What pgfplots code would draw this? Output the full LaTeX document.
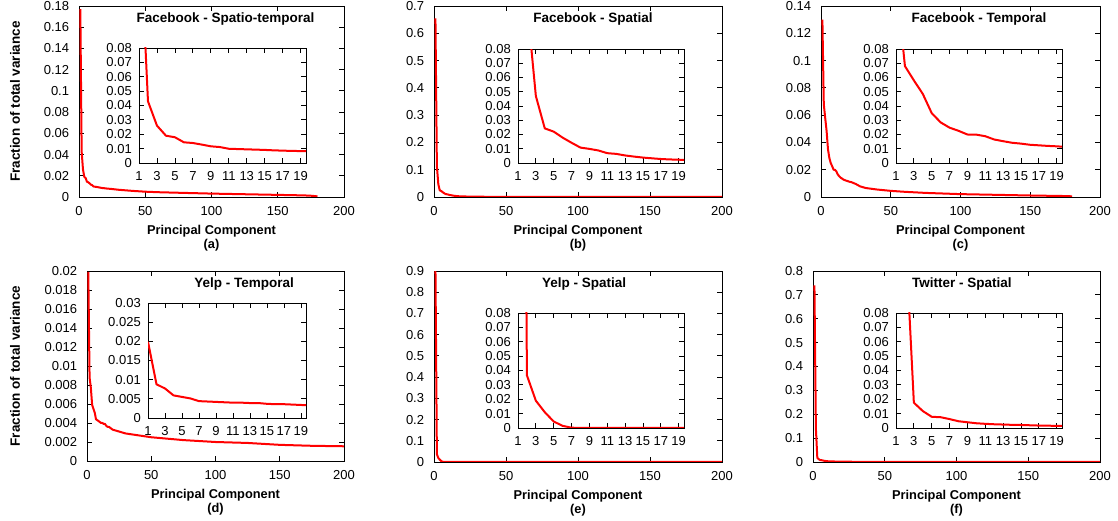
\documentclass[border=0pt]{standalone}
\usepackage{pgfplots}
\pgfplotsset{compat=1.18}
\usepackage{pgfplotstable}
\usepackage{fontspec}
\setmainfont{Liberation Sans}

% fraction of total variance per principal component
\pgfplotstableread{
x y
1 0.177
2 0.0429
3 0.0260
4 0.0190
5 0.0179
6 0.0144
7 0.0139
8 0.0128
9 0.0116
10 0.0111
11 0.0099
12 0.0097
13 0.0095
14 0.0093
15 0.0091
16 0.0088
17 0.0086
18 0.0084
19 0.0083
20 0.0081
25 0.0075
30 0.0068
40 0.0058
50 0.0050
60 0.0045
75 0.0040
100 0.0032
125 0.0026
150 0.0020
170 0.0015
175 0.0012
180 0.0006
}\fbst

\pgfplotstableread{
x y
1 0.655
2 0.113
3 0.047
4 0.0243
5 0.0220
6 0.0178
7 0.0142
8 0.0108
9 0.0099
10 0.0088
11 0.0069
12 0.0064
13 0.0053
14 0.0045
15 0.0038
16 0.0033
17 0.0028
18 0.0025
19 0.0023
20 0.0021
25 0.0015
30 0.0011
40 0.0007
50 0.0005
75 0.0003
100 0.0002
150 0.0001
200 0.00005
}\fbs

\pgfplotstableread{
x y
1 0.130
2 0.068
3 0.058
4 0.0485
5 0.0350
6 0.0285
7 0.0248
8 0.0226
9 0.0200
10 0.0199
11 0.0188
12 0.0165
13 0.0153
14 0.0142
15 0.0136
16 0.0128
17 0.0124
18 0.0120
19 0.0117
20 0.0113
22 0.0108
25 0.0095
28 0.0078
32 0.0066
40 0.0055
50 0.0045
60 0.0038
75 0.0030
100 0.0021
125 0.0016
150 0.0011
175 0.0007
180 0.0005
}\fbt

\pgfplotstableread{
x y
1 0.0199
2 0.0088
3 0.0077
4 0.0059
5 0.0055
6 0.0051
7 0.0044
8 0.0043
9 0.0042
10 0.0041
11 0.0040
12 0.0040
13 0.0039
14 0.0039
15 0.0037
16 0.0036
17 0.0036
18 0.0035
19 0.0034
20 0.0033
25 0.0031
30 0.0029
40 0.0027
50 0.0025
75 0.0022
100 0.0020
125 0.0019
150 0.0017
175 0.0016
200 0.00155
}\yt

\pgfplotstableread{
x y
1 0.92
2 0.0366
3 0.0190
4 0.0110
5 0.0045
6 0.0015
7 0.0002
8 0.0001
10 0.00005
20 0.00002
50 0.00001
100 0.00001
200 0.00001
}\ys

\pgfplotstableread{
x y
1 0.740
2 0.142
3 0.0176
4 0.0118
5 0.0078
6 0.0075
7 0.0062
8 0.0047
9 0.0040
10 0.0033
11 0.0029
12 0.0026
13 0.0024
14 0.0022
15 0.0021
16 0.0019
17 0.0017
18 0.0016
19 0.0015
20 0.0014
30 0.0009
50 0.0005
100 0.0002
150 0.0001
200 0.00005
}\ts

\newcommand\lbfont{\fontsize{12.8bp}{13.5bp}\selectfont\bfseries}
\newcommand\ttfont{\fontsize{13.5bp}{14bp}\selectfont\bfseries}
\pgfplotsset{
  panel/.style={
    scale only axis, anchor=south west,
    axis line style={line width=0.8bp, black},
    every tick/.style={black, line width=0.8bp},
    major tick length=5bp,
    tick align=inside,
    scaled ticks=false,
    tick label style={font=\fontsize{13bp}{14bp}\selectfont},
    /pgf/number format/fixed,
    /pgf/number format/precision=3,
    /pgf/number format/assume math mode=true,
    ymin=0,
  },
  main/.style={panel, xmin=0, xmax=200, xtick={0,50,100,150,200},
    yticklabel style={xshift=-6.4bp}, xticklabel style={yshift=-5.5bp},
    xlabel={Principal Component\\(#1)},
    xlabel style={font=\lbfont, align=center, at={(axis description cs:0.5,0)}, anchor=center, yshift=-41bp},
    ylabel style={font=\ttfont, anchor=center}},
  inset/.style={panel, xmin=1, xmax=19.6, xtick={1,3,5,7,9,11,13,15,17,19},
    ymax=0.08, ytick={0,0.01,0.02,0.03,0.04,0.05,0.06,0.07,0.08},
    yticklabel style={xshift=-3.7bp}, xticklabel style={yshift=-5bp}},
  curve/.style={red, line width=2bp, line join=round, mark=none},
}

\begin{document}
\begin{tikzpicture}
\useasboundingbox (0,0) rectangle (1118bp,521bp);

% (a)
\begin{axis}[main=a, at={(79bp,324bp)}, width=265bp, height=191bp, ymax=0.18,
  ytick={0,0.02,0.04,0.06,0.08,0.1,0.12,0.14,0.16,0.18},
  ylabel={Fraction of total variance}, ylabel style={at={(axis description cs:-0.2415,0.5)}}]
\addplot[curve] table {\fbst};
\node[font=\ttfont] at (rel axis cs:0.553,0.932) {Facebook - Spatio-temporal};
\end{axis}
\begin{axis}[inset, at={(139bp,358bp)}, width=167bp, height=115bp]
\addplot[curve] table {\fbst};
\end{axis}

% (b)
\begin{axis}[main=b, at={(434bp,324bp)}, width=288bp, height=191bp, ymax=0.7,
  ytick={0,0.1,0.2,0.3,0.4,0.5,0.6,0.7}]
\addplot[curve] table {\fbs};
\node[font=\ttfont] at (rel axis cs:0.552,0.932) {Facebook - Spatial};
\end{axis}
\begin{axis}[inset, at={(518bp,358bp)}, width=166bp, height=114bp]
\addplot[curve] table {\fbs};
\end{axis}

% (c)
\begin{axis}[main=c, at={(821bp,324bp)}, width=279bp, height=191bp, ymax=0.14,
  ytick={0,0.02,0.04,0.06,0.08,0.1,0.12,0.14}]
\addplot[curve] table {\fbt};
\node[font=\ttfont] at (rel axis cs:0.566,0.932) {Facebook - Temporal};
\end{axis}
\begin{axis}[inset, at={(896bp,358bp)}, width=166bp, height=114bp]
\addplot[curve] table {\fbt};
\end{axis}

% (d)
\begin{axis}[main=d, at={(87bp,60bp)}, width=257bp, height=190bp, ymax=0.02,
  ytick={0,0.002,0.004,0.006,0.008,0.01,0.012,0.014,0.016,0.018,0.02},
  ylabel={Fraction of total variance}, ylabel style={at={(axis description cs:-0.2802,0.5)}}]
\addplot[curve] table {\yt};
\node[font=\ttfont] at (rel axis cs:0.611,0.932) {Yelp - Temporal};
\end{axis}
\begin{axis}[inset, at={(148bp,103bp)}, width=158bp, height=115bp, ymax=0.03,
  ytick={0,0.005,0.01,0.015,0.02,0.025,0.03}]
\addplot[curve] table {\yt};
\end{axis}

% (e)
\begin{axis}[main=e, at={(434bp,59bp)}, width=288bp, height=191bp, ymax=0.9,
  ytick={0,0.1,0.2,0.3,0.4,0.5,0.6,0.7,0.8,0.9}]
\addplot[curve] table {\ys};
\node[font=\ttfont] at (rel axis cs:0.521,0.932) {Yelp - Spatial};
\end{axis}
\begin{axis}[inset, at={(518bp,93bp)}, width=166bp, height=115bp]
\addplot[curve] table {\ys};
\end{axis}

% (f)
\begin{axis}[main=f, at={(813bp,59bp)}, width=287bp, height=191bp, ymax=0.8,
  ytick={0,0.1,0.2,0.3,0.4,0.5,0.6,0.7,0.8}]
\addplot[curve] table {\ts};
\node[font=\ttfont] at (rel axis cs:0.519,0.932) {Twitter - Spatial};
\end{axis}
\begin{axis}[inset, at={(896bp,93bp)}, width=166bp, height=115bp]
\addplot[curve] table {\ts};
\end{axis}

\end{tikzpicture}
\end{document}
